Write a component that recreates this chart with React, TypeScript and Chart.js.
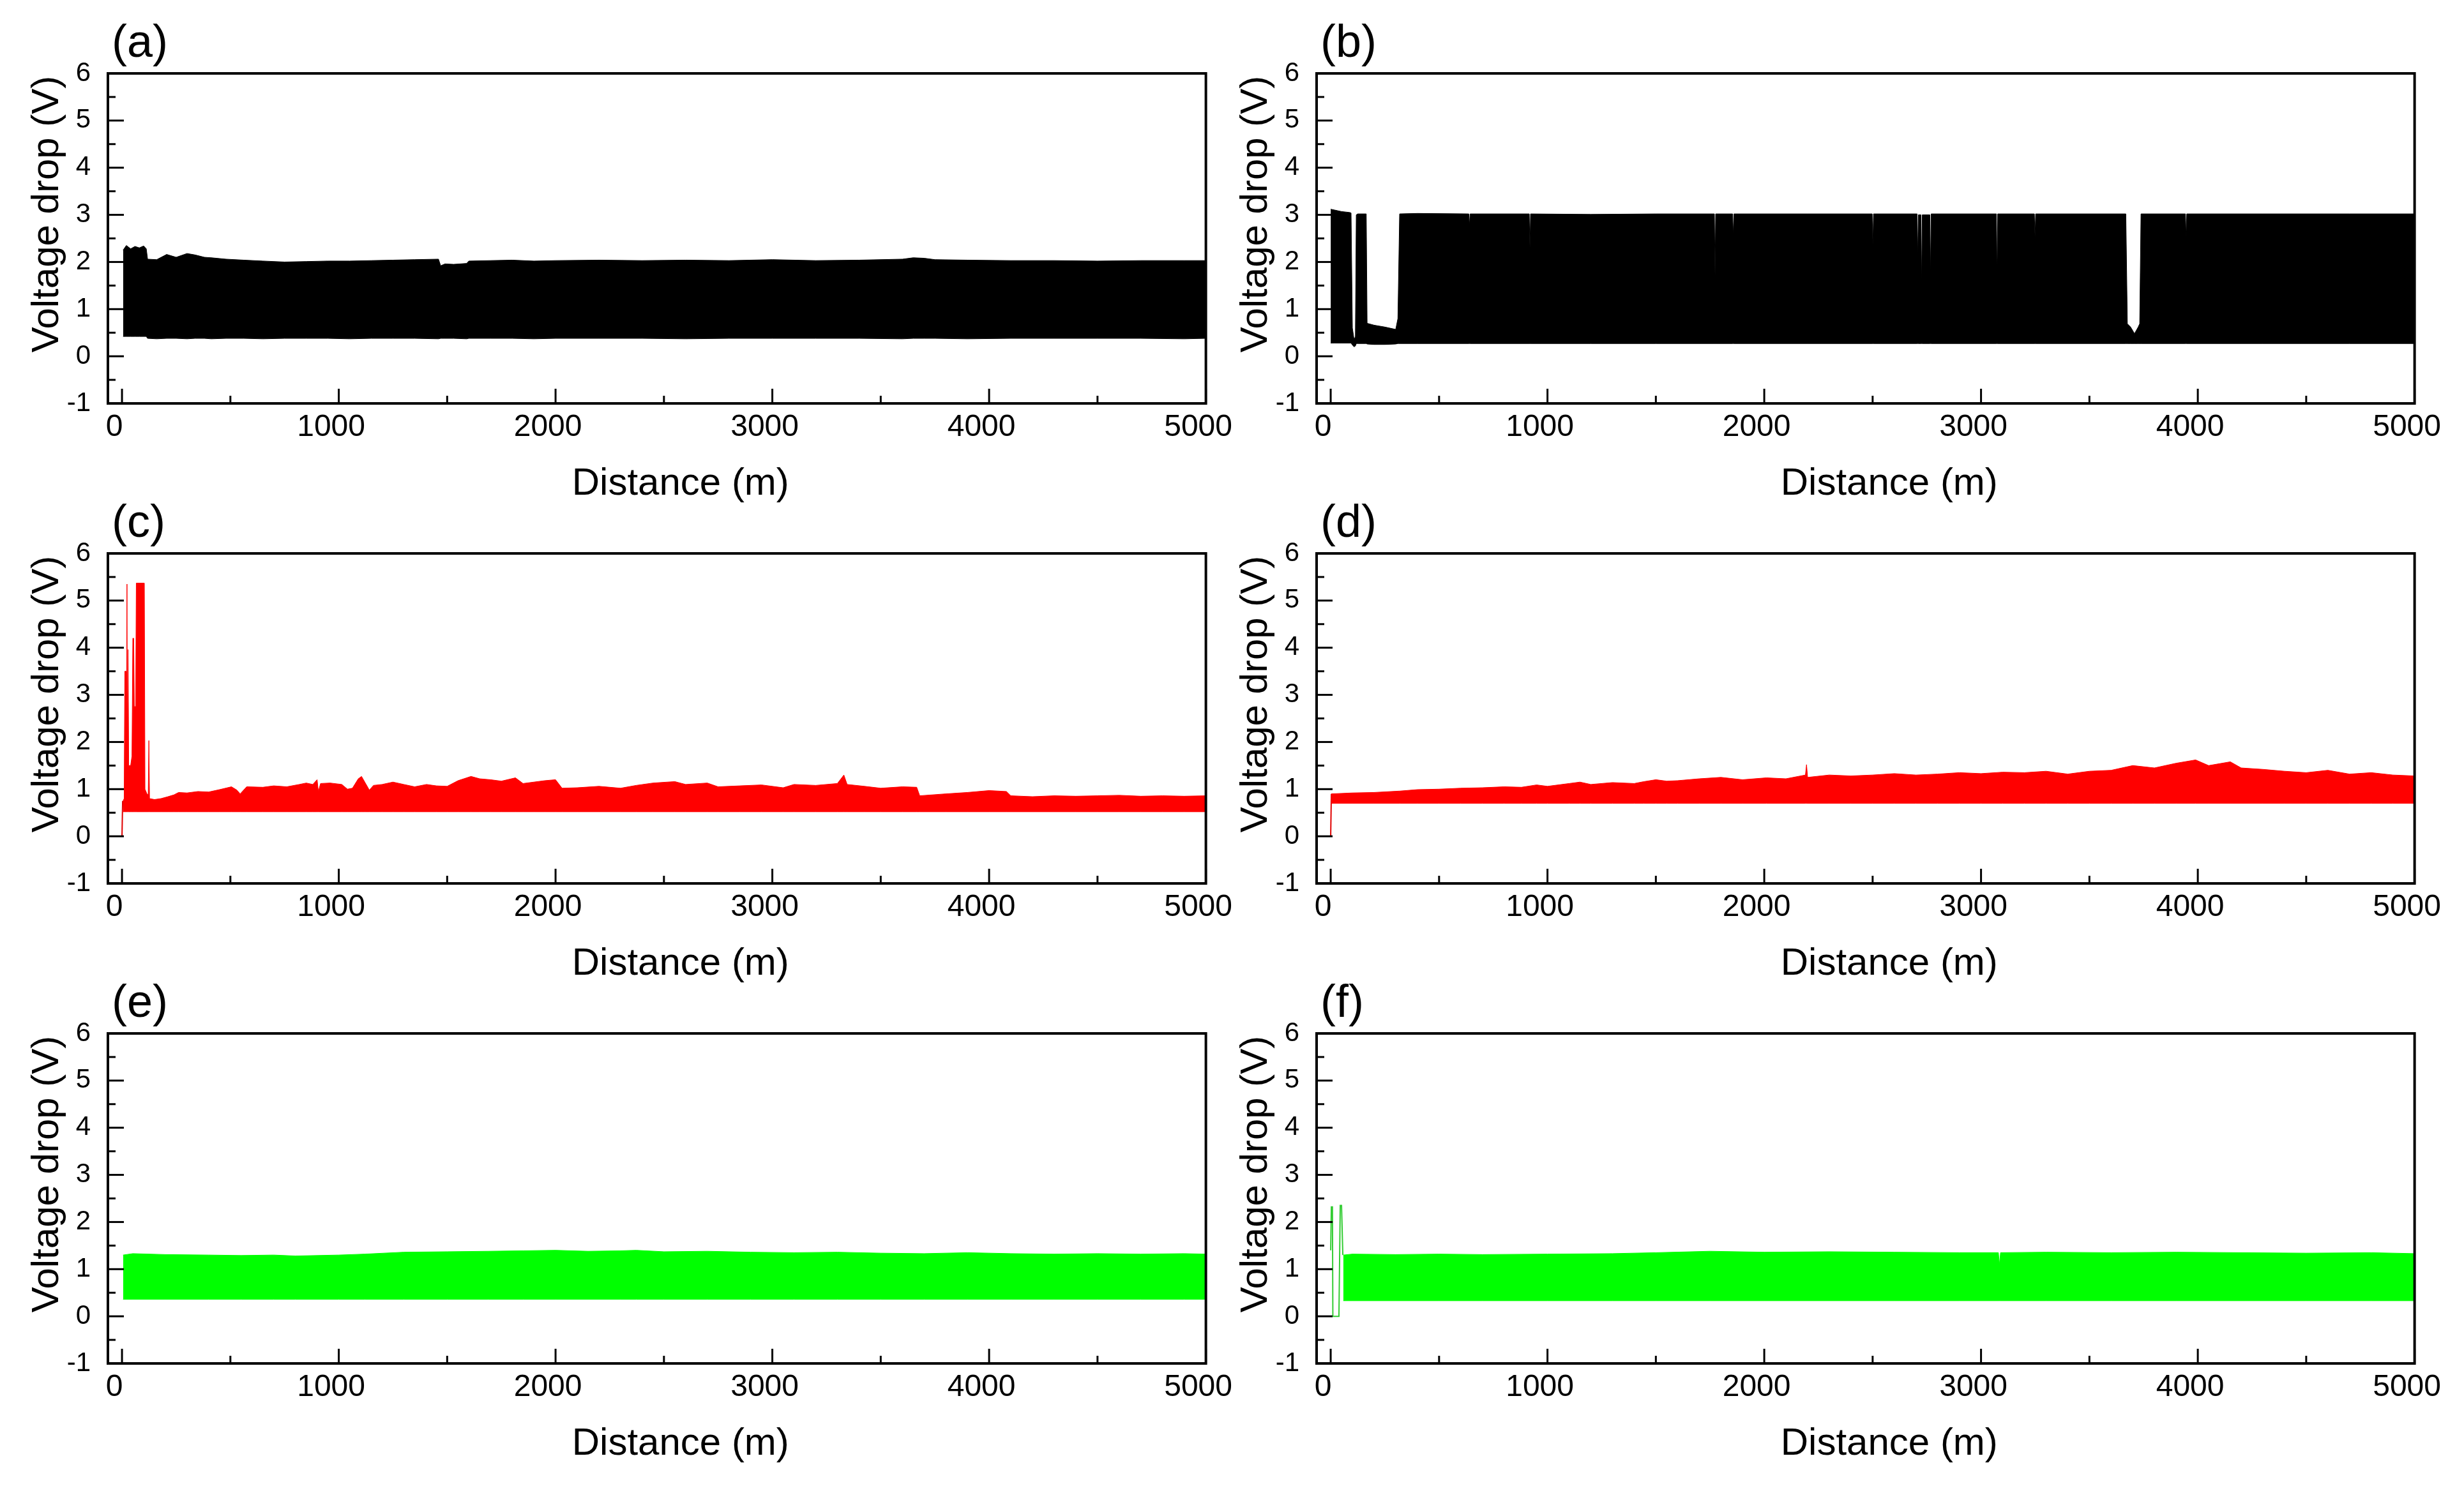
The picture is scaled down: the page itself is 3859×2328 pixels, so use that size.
import React, { useEffect, useRef } from "react";
import { Chart, registerables } from "chart.js";

Chart.register(...registerables);

const FONT = '"Liberation Sans", Arial, Helvetica, sans-serif';

// ---------- axis ticks / labels ----------
const xTickValues = [0, 1000, 2000, 3000, 4000, 5000];
const xTickLabels = ["0", "1000", "2000", "3000", "4000", "5000"];
const xMinorTicks = [500, 1500, 2500, 3500, 4500];
const yTickValues = [-1, 0, 1, 2, 3, 4, 5, 6];
const yTickLabels = ["-1", "0", "1", "2", "3", "4", "5", "6"];
const yMinorTicks = [-0.5, 0.5, 1.5, 2.5, 3.5, 4.5, 5.5];
const panelLabels = ["(a)", "(b)", "(c)", "(d)", "(e)", "(f)"];
const xTitle = "Distance (m)";
const yTitle = "Voltage drop (V)";

// ---------- (a) black ----------
const aDist = [5, 20, 40, 60, 80, 100, 112, 118, 160, 206, 250, 300, 337, 380, 412, 480, 562, 650, 750, 850, 950, 1050, 1150, 1250, 1350, 1460, 1470, 1490, 1530, 1590, 1600, 1700, 1800, 1900, 2000, 2200, 2400, 2600, 2800, 3000, 3200, 3400, 3600, 3650, 3700, 3750, 3900, 4100, 4300, 4500, 4700, 4900, 5000];
const aUpper = [2.25, 2.35, 2.28, 2.33, 2.3, 2.34, 2.28, 2.06, 2.05, 2.16, 2.1, 2.18, 2.15, 2.1, 2.09, 2.06, 2.04, 2.02, 2.0, 2.01, 2.02, 2.02, 2.03, 2.04, 2.05, 2.06, 1.92, 1.96, 1.95, 1.97, 2.02, 2.03, 2.04, 2.02, 2.03, 2.04, 2.03, 2.04, 2.03, 2.05, 2.03, 2.04, 2.06, 2.09, 2.08, 2.05, 2.04, 2.03, 2.03, 2.02, 2.03, 2.03, 2.03];
const aLower = [0.42, 0.42, 0.42, 0.42, 0.42, 0.42, 0.42, 0.38, 0.37, 0.38, 0.38, 0.37, 0.38, 0.38, 0.37, 0.38, 0.38, 0.37, 0.38, 0.38, 0.38, 0.37, 0.38, 0.38, 0.38, 0.37, 0.38, 0.38, 0.38, 0.37, 0.38, 0.38, 0.38, 0.37, 0.38, 0.38, 0.38, 0.37, 0.38, 0.38, 0.38, 0.38, 0.37, 0.38, 0.38, 0.38, 0.37, 0.38, 0.38, 0.38, 0.38, 0.37, 0.38];

// ---------- (b) black ----------
const bDist = [0, 20, 50, 88, 94, 100, 108, 114, 118, 125, 164, 168, 200, 250, 300, 310, 318, 400, 637, 640, 643, 916, 919, 922, 1200, 1500, 1770, 1773, 1776, 1854, 1857, 1860, 2200, 2498, 2501, 2504, 2705, 2708, 2711, 2723, 2726, 2729, 2764, 2767, 2770, 3071, 3074, 3077, 3246, 3249, 3252, 3668, 3675, 3690, 3708, 3725, 3732, 3738, 3943, 3946, 3949, 4300, 4700, 5000];
const bUpper = [3.12, 3.1, 3.07, 3.05, 3.04, 0.6, 0.35, 0.42, 3.0, 3.02, 3.02, 0.7, 0.66, 0.62, 0.57, 0.8, 3.02, 3.03, 3.02, 2.77, 3.02, 3.02, 2.3, 3.02, 3.01, 3.02, 3.02, 1.72, 3.02, 3.02, 2.56, 3.02, 3.02, 3.02, 2.35, 3.02, 3.02, 2.1, 3.0, 3.0, 1.45, 3.0, 3.0, 1.68, 3.02, 3.02, 1.63, 3.02, 3.02, 2.53, 3.02, 3.02, 0.69, 0.62, 0.48, 0.62, 0.69, 3.02, 3.02, 2.53, 3.02, 3.02, 3.02, 3.02];
const bLower = [0.28, 0.28, 0.28, 0.28, 0.28, 0.24, 0.2, 0.22, 0.27, 0.27, 0.27, 0.26, 0.25, 0.25, 0.26, 0.27, 0.27, 0.27, 0.27, 0.27, 0.27, 0.27, 0.27, 0.27, 0.27, 0.27, 0.27, 0.27, 0.27, 0.27, 0.27, 0.27, 0.27, 0.27, 0.27, 0.27, 0.27, 0.27, 0.27, 0.27, 0.27, 0.27, 0.27, 0.27, 0.27, 0.27, 0.27, 0.27, 0.27, 0.27, 0.27, 0.27, 0.27, 0.27, 0.27, 0.27, 0.27, 0.27, 0.27, 0.27, 0.27, 0.27, 0.27, 0.27];

// ---------- (c) red ----------
const cDist = [5, 10, 13, 18, 20, 23, 25, 28, 31, 40, 46, 50, 54, 57, 63, 66, 103, 106, 115, 121, 124, 127, 150, 180, 212, 240, 261, 300, 350, 400, 450, 505, 530, 545, 575, 650, 700, 760, 818, 850, 880, 900, 906, 916, 960, 1014, 1040, 1063, 1090, 1105, 1120, 1141, 1160, 1200, 1250, 1300, 1350, 1405, 1450, 1500, 1550, 1610, 1650, 1700, 1750, 1815, 1850, 1900, 1950, 2000, 2030, 2100, 2200, 2300, 2372, 2450, 2550, 2600, 2700, 2750, 2850, 2950, 3050, 3100, 3200, 3300, 3330, 3345, 3425, 3500, 3600, 3666, 3680, 3800, 3900, 4000, 4080, 4100, 4200, 4300, 4400, 4500, 4600, 4700, 4800, 4900, 5000];
const cUpper = [0.75, 0.8, 3.5, 3.5, 1.6, 5.35, 1.6, 3.96, 1.5, 1.5, 1.7, 4.2, 4.2, 2.75, 2.75, 5.37, 5.37, 1.0, 0.9, 0.88, 2.03, 0.8, 0.78, 0.8, 0.84, 0.88, 0.93, 0.92, 0.95, 0.94, 0.99, 1.05, 0.98, 0.9, 1.05, 1.04, 1.07, 1.05, 1.1, 1.13, 1.1, 1.2, 0.95, 1.12, 1.13, 1.1, 1.0, 1.02, 1.22, 1.27, 1.15, 0.98, 1.08, 1.1, 1.15, 1.1, 1.05, 1.1, 1.07, 1.06, 1.18, 1.27, 1.22, 1.2, 1.17, 1.24, 1.12, 1.15, 1.18, 1.2, 1.02, 1.03, 1.06, 1.02, 1.08, 1.13, 1.16, 1.1, 1.13, 1.05, 1.07, 1.09, 1.03, 1.1, 1.08, 1.12, 1.3, 1.1, 1.06, 1.02, 1.05, 1.04, 0.86, 0.9, 0.93, 0.97, 0.95, 0.86, 0.84, 0.86, 0.85, 0.86, 0.87, 0.85, 0.86, 0.85, 0.86];
const cLowerLevel = 0.52;
const cTraceDist = [0, 2, 3, 5];
const cTraceV = [0, 0, 0.75, 0.75];

// ---------- (d) red ----------
const dDist = [3, 100, 200, 320, 400, 500, 600, 700, 800, 880, 950, 1000, 1100, 1150, 1200, 1300, 1400, 1445, 1500, 1550, 1600, 1700, 1800, 1900, 2010, 2100, 2190, 2195, 2200, 2300, 2400, 2500, 2600, 2700, 2800, 2900, 3000, 3100, 3200, 3300, 3400, 3500, 3600, 3700, 3800, 3900, 3990, 4050, 4150, 4200, 4300, 4400, 4500, 4600, 4700, 4800, 4900, 5000];
const dUpper = [0.9, 0.92, 0.93, 0.96, 0.99, 1.0, 1.02, 1.03, 1.05, 1.04, 1.09, 1.06, 1.12, 1.15, 1.1, 1.14, 1.12, 1.16, 1.2, 1.17, 1.18, 1.22, 1.25, 1.2, 1.24, 1.22, 1.3, 1.52, 1.25, 1.3, 1.28, 1.3, 1.33, 1.3, 1.32, 1.35, 1.33, 1.36, 1.35, 1.38, 1.32, 1.38, 1.4, 1.5, 1.45, 1.55, 1.62, 1.5, 1.58, 1.45, 1.42, 1.38, 1.35, 1.4, 1.32, 1.35, 1.3, 1.28];
const dLowerLevel = 0.7;
const dTraceDist = [0, 2, 3];
const dTraceV = [0, 0, 0.9];

// ---------- (e) green ----------
const eDist = [5, 50, 200, 400, 550, 700, 800, 1000, 1120, 1300, 1500, 1690, 1850, 2000, 2150, 2300, 2372, 2500, 2700, 2900, 3100, 3300, 3500, 3700, 3900, 4100, 4300, 4500, 4700, 4900, 5000];
const eUpper = [1.3, 1.33, 1.31, 1.3, 1.29, 1.3, 1.28, 1.3, 1.32, 1.36, 1.37, 1.38, 1.39, 1.4, 1.38, 1.39, 1.4, 1.37, 1.38, 1.36, 1.35, 1.36, 1.34, 1.33, 1.35, 1.33, 1.32, 1.33, 1.32, 1.33, 1.32];
const eLowerLevel = 0.36;

// ---------- (f) green ----------
const fDist = [58, 100, 300, 500, 700, 1000, 1300, 1500, 1750, 2000, 2300, 2600, 2900, 3080, 3085, 3090, 3300, 3600, 3900, 4200, 4500, 4800, 5000];
const fUpper = [1.3, 1.32, 1.31, 1.32, 1.31, 1.32, 1.33, 1.35, 1.38, 1.36, 1.37, 1.36, 1.35, 1.35, 1.1, 1.35, 1.36, 1.35, 1.36, 1.35, 1.34, 1.35, 1.33];
const fLowerLevel = 0.33;
const fTraceDist = [0, 3, 8, 10, 38, 44, 50, 56];
const fTraceV = [1.4, 2.32, 2.32, 0, 0, 2.35, 2.35, 1.3];

// ---------- layout ----------
const X_MIN = -65;
const X_MAX = 5000;
const Y_MIN = -1;
const Y_MAX = 6;
const Y_AXIS_W = 169;
const PAD_TOP = 115;
const PAD_RIGHT = 60;
const X_AXIS_H = 190;
const CANVAS_W = 169 + 1722 + PAD_RIGHT;
const CANVAS_H = PAD_TOP + 517 + X_AXIS_H;
const COL_LEFT = [0, 1893];
const ROW_TOP = [0, 752, 1504];

type Pt = { x: number; y: number };
const zip = (xs: number[], ys: number[]): Pt[] =>
  xs.slice(0, Math.min(xs.length, ys.length)).map((x, i) => ({ x, y: ys[i] }));
const level = (xs: number[], v: number): Pt[] => xs.map((x) => ({ x, y: v }));

type PanelCfg = {
  label: string;
  color: string;
  lower: Pt[];
  upper: Pt[];
  trace?: Pt[];
  traceColor?: string;
};

const panels: PanelCfg[] = [
  { label: panelLabels[0], color: "#000000", lower: zip(aDist, aLower), upper: zip(aDist, aUpper) },
  { label: panelLabels[1], color: "#000000", lower: zip(bDist, bLower), upper: zip(bDist, bUpper) },
  {
    label: panelLabels[2], color: "#ff0000", lower: level(cDist, cLowerLevel), upper: zip(cDist, cUpper),
    trace: zip(cTraceDist, cTraceV), traceColor: "#e00000",
  },
  {
    label: panelLabels[3], color: "#ff0000", lower: level(dDist, dLowerLevel), upper: zip(dDist, dUpper),
    trace: zip(dTraceDist, dTraceV), traceColor: "#e00000",
  },
  { label: panelLabels[4], color: "#00ff00", lower: level(eDist, eLowerLevel), upper: zip(eDist, eUpper) },
  {
    label: panelLabels[5], color: "#00ff00", lower: level(fDist, fLowerLevel), upper: zip(fDist, fUpper),
    trace: zip(fTraceDist, fTraceV), traceColor: "#33cc33",
  },
];

function framePlugin(label: string) {
  return {
    id: "frame_" + label,
    afterDraw(chart: any) {
      const { ctx, chartArea } = chart;
      const { left, top, right, bottom } = chartArea;
      const xs = chart.scales.x;
      const ys = chart.scales.y;
      ctx.save();
      ctx.strokeStyle = "#000";
      ctx.lineCap = "butt";
      ctx.lineWidth = 3;
      const line = (x1: number, y1: number, x2: number, y2: number) => {
        ctx.beginPath();
        ctx.moveTo(x1, y1);
        ctx.lineTo(x2, y2);
        ctx.stroke();
      };
      for (const v of yTickValues) {
        const py = ys.getPixelForValue(v);
        line(left, py, left + 25, py);
      }
      for (const v of yMinorTicks) {
        const py = ys.getPixelForValue(v);
        line(left, py, left + 12, py);
      }
      for (const v of xTickValues) {
        const px = xs.getPixelForValue(v);
        line(px, bottom, px, bottom - 23);
      }
      for (const v of xMinorTicks) {
        const px = xs.getPixelForValue(v);
        line(px, bottom, px, bottom - 12);
      }
      ctx.lineWidth = 4;
      ctx.strokeRect(left, top, right - left, bottom - top);

      ctx.fillStyle = "#000";
      ctx.font = `72px ${FONT}`;
      ctx.textAlign = "left";
      ctx.textBaseline = "alphabetic";
      ctx.fillText(label, left + 6, top - 26);

      ctx.font = `60px ${FONT}`;
      ctx.textAlign = "center";
      ctx.fillText(xTitle, (left + right) / 2 + 37, bottom + 143);

      ctx.translate(left - 78, (top + bottom) / 2 - 38);
      ctx.rotate(-Math.PI / 2);
      ctx.textAlign = "center";
      ctx.fillText(yTitle, 0, 0);
      ctx.restore();
    },
  };
}

function Panel({ cfg, left, top }: { cfg: PanelCfg; left: number; top: number }) {
  const ref = useRef<HTMLCanvasElement>(null);
  useEffect(() => {
    const canvas = ref.current;
    if (!canvas) return;
    const datasets: any[] = [
      {
        data: cfg.lower,
        borderColor: cfg.color,
        backgroundColor: cfg.color,
        borderWidth: 1,
        pointRadius: 0,
        fill: false,
        tension: 0,
      },
      {
        data: cfg.upper,
        borderColor: cfg.color,
        backgroundColor: cfg.color,
        borderWidth: 1,
        pointRadius: 0,
        fill: "-1",
        tension: 0,
      },
    ];
    if (cfg.trace) {
      datasets.push({
        data: cfg.trace,
        borderColor: cfg.traceColor,
        borderWidth: 2,
        pointRadius: 0,
        fill: false,
        tension: 0,
      });
    }
    const chart = new Chart(canvas, {
      type: "line",
      data: { datasets },
      options: {
        responsive: false,
        animation: false,
        devicePixelRatio: 1,
        events: [],
        layout: { padding: { left: 0, top: PAD_TOP, right: PAD_RIGHT, bottom: 0 } },
        plugins: {
          legend: { display: false },
          tooltip: { enabled: false },
          title: { display: false },
        },
        scales: {
          x: {
            type: "linear",
            min: X_MIN,
            max: X_MAX,
            grid: { display: false, drawTicks: false },
            border: { display: false },
            afterBuildTicks: (axis: any) => {
              axis.ticks = xTickValues.map((v) => ({ value: v }));
            },
            afterFit: (axis: any) => {
              axis.height = X_AXIS_H;
            },
            ticks: {
              autoSkip: false,
              maxRotation: 0,
              minRotation: 0,
              padding: 9,
              labelOffset: -12,
              color: "#000",
              font: { family: FONT, size: 48 },
              callback: (_v: any, i: number) => xTickLabels[i],
            },
          },
          y: {
            type: "linear",
            min: Y_MIN,
            max: Y_MAX,
            grid: { display: false, drawTicks: false },
            border: { display: false },
            afterBuildTicks: (axis: any) => {
              axis.ticks = yTickValues.map((v) => ({ value: v }));
            },
            afterFit: (axis: any) => {
              axis.width = Y_AXIS_W;
            },
            ticks: {
              autoSkip: false,
              padding: 27,
              color: "#000",
              font: { family: FONT, size: 42 },
              callback: (_v: any, i: number) => yTickLabels[i],
            },
          },
        },
      } as any,
      plugins: [framePlugin(cfg.label)],
    });
    return () => chart.destroy();
  }, [cfg]);
  return (
    <canvas
      ref={ref}
      width={CANVAS_W}
      height={CANVAS_H}
      style={{ position: "absolute", left, top, width: CANVAS_W, height: CANVAS_H }}
    />
  );
}

export default function App() {
  return (
    <div
      style={{
        position: "absolute",
        left: 0,
        top: 0,
        width: 3859,
        height: 2328,
        background: "#ffffff",
        overflow: "hidden",
      }}
    >
      {panels.map((p, i) => (
        <Panel key={i} cfg={p} left={COL_LEFT[i % 2]} top={ROW_TOP[Math.floor(i / 2)]} />
      ))}
    </div>
  );
}
